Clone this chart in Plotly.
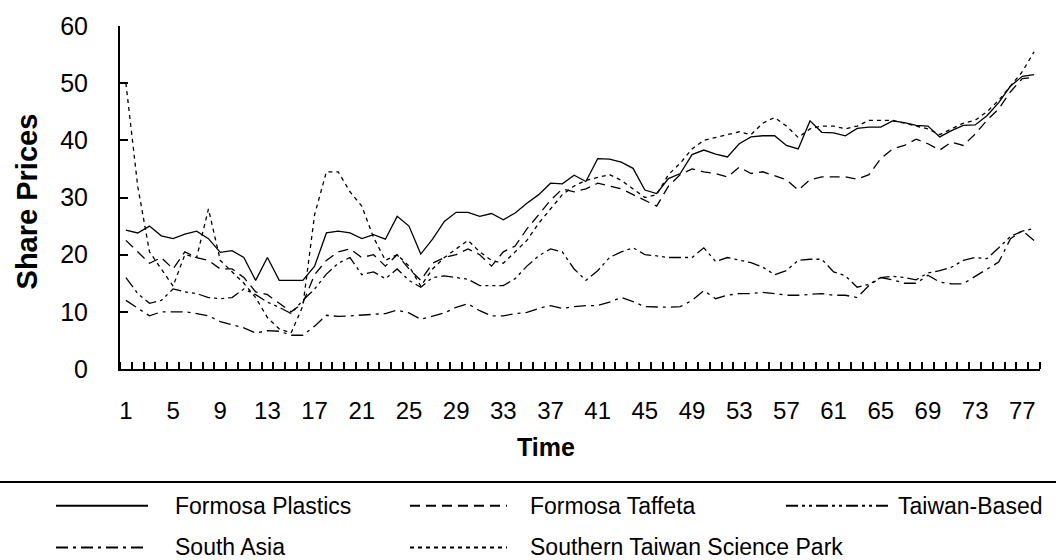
import plotly.graph_objects as go

# ---------------- data ----------------
TIME = list(range(1, 79))
X_TICKS = list(range(1, 78, 4))
Y_TICKS = [0, 10, 20, 30, 40, 50, 60]

FORMOSA_PLASTICS = [24.3, 23.8, 25.0, 23.3, 22.8, 23.6, 24.1, 22.8, 20.4, 20.7,
                    19.5, 15.5, 19.5, 15.5, 15.5, 15.5, 18.0, 23.8, 24.1, 23.8,
                    22.8, 23.5, 22.7, 26.7, 25.0, 20.1, 22.7, 25.8, 27.4, 27.4,
                    26.7, 27.2, 26.1, 27.3, 29.0, 30.5, 32.5, 32.4, 33.9, 32.8,
                    36.8, 36.7, 36.2, 35.1, 31.3, 30.7, 33.3, 34.2, 37.5, 38.3,
                    37.6, 37.1, 39.4, 40.6, 40.8, 40.8, 39.1, 38.5, 43.4, 41.4,
                    41.3, 40.8, 42.1, 42.3, 42.3, 43.4, 43.1, 42.6, 42.5, 40.6,
                    41.7, 42.6, 42.7, 44.3, 46.6, 49.5, 51.2, 51.5]

FORMOSA_TAFFETA = [22.5, 20.5, 18.5, 19.5, 17.5, 20.5, 19.5, 19.0, 17.5, 17.5,
                   16.0, 13.5, 13.0, 11.5, 10.0, 11.5, 16.5, 19.0, 20.5, 21.0,
                   19.5, 20.0, 18.0, 20.0, 17.5, 15.5, 18.5, 19.5, 20.0, 21.0,
                   20.0, 18.0, 20.5, 21.5, 24.5, 27.0, 29.5, 31.5, 31.0, 31.5,
                   32.5, 32.0, 31.5, 30.5, 29.5, 28.5, 32.0, 34.0, 35.0, 34.5,
                   34.2, 33.6, 35.3, 34.2, 34.5, 33.8, 33.1, 31.3, 33.1, 33.6,
                   33.6, 33.6, 33.2, 34.0, 36.8, 38.5, 39.1, 40.2, 39.4, 38.3,
                   39.7, 39.1, 41.1, 43.5, 45.5, 48.5, 50.8, 51.0]

TAIWAN_BASED = [16.0, 13.2, 11.5, 12.0, 14.0, 13.5, 13.2, 12.5, 12.3, 12.5,
                14.0, 13.0, 11.7, 10.8, 9.7, 12.0, 14.0, 16.6, 18.5, 19.5,
                16.5, 17.0, 15.8, 17.5, 15.5, 14.3, 16.0, 16.3, 16.0, 15.7,
                14.6, 14.6, 14.6, 15.8, 18.0, 19.8, 21.0, 20.5, 17.5, 15.5,
                17.2, 19.5, 20.5, 21.2, 20.0, 19.8, 19.5, 19.5, 19.5, 21.2,
                18.8, 19.5, 19.0, 18.6, 17.8, 16.5, 17.2, 19.0, 19.2, 19.2,
                17.0, 16.3, 14.3, 14.8, 16.0, 16.2, 16.0, 15.6, 16.8, 17.2,
                17.8, 19.0, 19.5, 19.3, 21.2, 23.2, 24.1, 24.6]

SOUTH_ASIA = [12.0, 10.6, 9.3, 10.0, 10.0, 10.0, 9.7, 9.3, 8.3, 7.8,
              7.2, 6.3, 6.7, 6.6, 5.9, 5.9, 7.5, 9.4, 9.2, 9.3,
              9.4, 9.5, 9.7, 10.3, 9.8, 8.7, 9.2, 9.8, 10.8, 11.4,
              10.2, 9.3, 9.3, 9.7, 9.9, 10.6, 11.1, 10.6, 10.9, 11.1,
              11.1, 11.7, 12.5, 11.8, 10.9, 10.8, 10.8, 10.9, 12.0, 13.7,
              12.3, 12.9, 13.2, 13.2, 13.4, 13.2, 12.9, 12.9, 13.0, 13.2,
              12.9, 12.9, 12.5, 14.6, 16.0, 15.6, 15.0, 15.0, 16.4, 15.2,
              14.9, 14.9, 16.2, 17.5, 18.7, 22.8, 24.2, 22.5]

SOUTHERN_TAIWAN_SP = [50.0, 32.0, 20.5, 17.5, 14.5, 20.0, 19.5, 28.0, 19.0, 17.0,
                      15.0, 12.5, 9.0, 7.0, 6.3, 11.0, 27.0, 34.5, 34.5, 31.0,
                      28.5, 23.0, 19.0, 20.0, 18.0, 14.5, 17.5, 19.5, 21.0, 22.5,
                      20.5, 19.0, 18.5, 20.5, 22.5, 25.5, 28.0, 30.5, 32.0, 33.0,
                      33.5, 34.0, 33.0, 31.5, 30.0, 30.5, 34.0, 36.0, 38.5, 40.0,
                      40.5, 41.0, 41.5, 41.0, 43.0, 44.0, 42.5, 40.5, 42.0, 42.5,
                      42.5, 42.0, 42.5, 43.5, 43.5, 43.5, 43.0, 42.5, 42.0, 41.0,
                      42.0, 43.0, 43.5, 45.0, 47.0, 49.5, 52.0, 55.5]

SERIES = [
    ("Formosa Plastics", FORMOSA_PLASTICS),
    ("Formosa Taffeta", FORMOSA_TAFFETA),
    ("Taiwan-Based", TAIWAN_BASED),
    ("South Asia", SOUTH_ASIA),
    ("Southern Taiwan Science Park", SOUTHERN_TAIWAN_SP),
]

# ---------------- styles ----------------
DASHES = {
    "Formosa Plastics": "solid",
    "Formosa Taffeta": "10px,6px",
    "Taiwan-Based": "12px,4px,3px,4px,3px,4px",
    "South Asia": "12px,5px,3px,5px",
    "Southern Taiwan Science Park": "4px,4px",
}
# legend slot (symbol x0, symbol x1, text x, row y) in pixels
LEGEND_POS = {
    "Formosa Plastics": (56, 148, 173, 507),
    "Formosa Taffeta": (410, 507, 528, 507),
    "Taiwan-Based": (786, 891, 896, 507),
    "South Asia": (56, 148, 173, 549),
    "Southern Taiwan Science Park": (410, 507, 528, 549),
}

W, H = 1056, 560
ML, MR, MT, MB = 120, 16, 23, 191
PW, PH = W - ML - MR, H - MT - MB


def px_x(px):
    return (px - ML) / PW


def px_y(py):
    return (H - MB - py) / PH


SANS = "Liberation Sans, Arial, sans-serif"

fig = go.Figure()
for name, vals in SERIES:
    fig.add_trace(go.Scatter(
        x=TIME, y=vals, mode="lines", name=name, showlegend=False,
        line=dict(color="black", width=1.3, dash=DASHES[name]),
    ))

shapes = [dict(type="line", xref="paper", yref="paper",
               x0=px_x(0), x1=px_x(W), y0=px_y(483), y1=px_y(483),
               line=dict(color="black", width=2))]
annotations = [
    dict(text="<b>Share Prices</b>", xref="paper", yref="paper",
         x=px_x(27), y=px_y(200), textangle=-90, showarrow=False,
         xanchor="center", yanchor="middle",
         font=dict(family=SANS, size=29, color="black")),
    dict(text="<b>Time</b>", xref="paper", yref="paper",
         x=px_x(546), y=px_y(448), showarrow=False,
         xanchor="center", yanchor="middle",
         font=dict(family=SANS, size=25, color="black")),
]
for name, _ in SERIES:
    x0, x1, tx, ry = LEGEND_POS[name]
    shapes.append(dict(type="line", xref="paper", yref="paper",
                       x0=px_x(x0), x1=px_x(x1), y0=px_y(ry), y1=px_y(ry),
                       line=dict(color="black", width=2, dash=DASHES[name])))
    annotations.append(dict(text=name, xref="paper", yref="paper",
                            x=px_x(tx), y=px_y(ry), showarrow=False,
                            xanchor="left", yanchor="middle",
                            font=dict(family=SANS, size=23, color="black")))

fig.update_layout(
    width=W, height=H,
    margin=dict(l=ML, r=MR, t=MT, b=MB),
    paper_bgcolor="white", plot_bgcolor="white",
    showlegend=False,
    shapes=shapes, annotations=annotations,
    xaxis=dict(
        range=[0.5, 78.5], tickmode="array", tickvals=X_TICKS,
        ticktext=[str(v) for v in X_TICKS], ticks="",
        showline=True, linecolor="black", linewidth=2,
        showgrid=False, zeroline=False,
        tickfont=dict(family=SANS, size=24, color="black"),
        ticklabelstandoff=19,
        minor=dict(tickmode="linear", tick0=0.5, dtick=1, ticks="inside",
                   ticklen=7, tickwidth=1.5, tickcolor="black", showgrid=False),
    ),
    yaxis=dict(
        range=[0, 60], tickmode="array", tickvals=Y_TICKS,
        ticks="inside", ticklen=8, tickwidth=2, tickcolor="black",
        showline=True, linecolor="black", linewidth=2,
        showgrid=False, zeroline=False,
        tickfont=dict(family=SANS, size=25, color="black"),
        ticklabelstandoff=25,
    ),
)

fig.write_html(
    "out.html",
    config={"displayModeBar": False},
    post_script="document.body.style.margin='0';document.body.style.overflow='hidden';",
)
